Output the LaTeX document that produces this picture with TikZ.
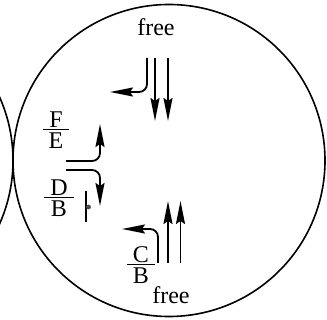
\documentclass[tikz,border=0pt]{standalone}
\usepackage{fontspec}
\setmainfont{Liberation Serif}
\usetikzlibrary{arrows.meta, positioning}
\newcommand{\ratio}[2]{{\setlength{\arrayrulewidth}{1.4pt}\renewcommand{\arraystretch}{0.95}%
\begin{tabular}{@{\hspace{6pt}}c@{\hspace{6pt}}}#1\\[-7pt]\hline #2\end{tabular}}}

\begin{document}
\begin{tikzpicture}[x=1pt,y=-1pt,>={Stealth[length=23pt,width=9pt,inset=3pt]},font=\fontsize{24}{28}\selectfont]
\tikzstyle{ring}=[line width=1.6pt]
\tikzstyle{lane}=[->,line width=1.8pt]
\tikzstyle{turn}=[->,line width=1.8pt,rounded corners=8pt]
\tikzstyle{lbl}=[inner sep=0pt]
\useasboundingbox (0,0) rectangle (327,320);
\clip (0,0) rectangle (327,320);
% the two circles
\draw[ring] (169,160.5) circle (156pt);
\draw[ring] (-143,160.5) circle (156pt);
% labels
\node [lbl] (freetop) at (156,27) {free};
\node [lbl] (freebot) at (171,295) {free};
\node [lbl] (fe) at (56,133) {\ratio{F}{E}};
\node [lbl] (db) at (59,201) {\ratio{D}{B}};
\node [lbl] (cb) at (141,268) {\ratio{C}{B}};
% top lanes
\coordinate (ta) at (147,58);
\coordinate (tae) at (110,92);
\coordinate (tb) at (155,58);
\coordinate (tbe) at (155,121);
\coordinate (tc) at (168,58);
\coordinate (tce) at (168,121);
\draw[turn] (ta) |- (tae);
\draw[lane] (tb) -- (tbe);
\draw[lane] (tc) -- (tce);
% left lanes
\coordinate (la) at (66,161);
\coordinate (lae) at (100,124);
\coordinate (lb) at (66,170);
\coordinate (lbe) at (100,206);
\draw[turn] (la) -| (lae);
\draw[turn] (lb) -| (lbe);
% stop line with signal
\coordinate (sa) at (86,191);
\coordinate (sb) at (86,222);
\draw[line width=1.8pt] (sa) -- (sb);
\fill[black!70] (88.5,207) circle (2.4pt);
% bottom lanes
\coordinate (ba) at (158,263);
\coordinate (bae) at (122,229);
\coordinate (bb) at (168,263);
\coordinate (bbe) at (168,201);
\coordinate (bc) at (180.5,263);
\coordinate (bce) at (180.5,201);
\draw[turn] (ba) |- (bae);
\draw[lane] (bb) -- (bbe);
\draw[lane] (bc) -- (bce);
\end{tikzpicture}
\end{document}
